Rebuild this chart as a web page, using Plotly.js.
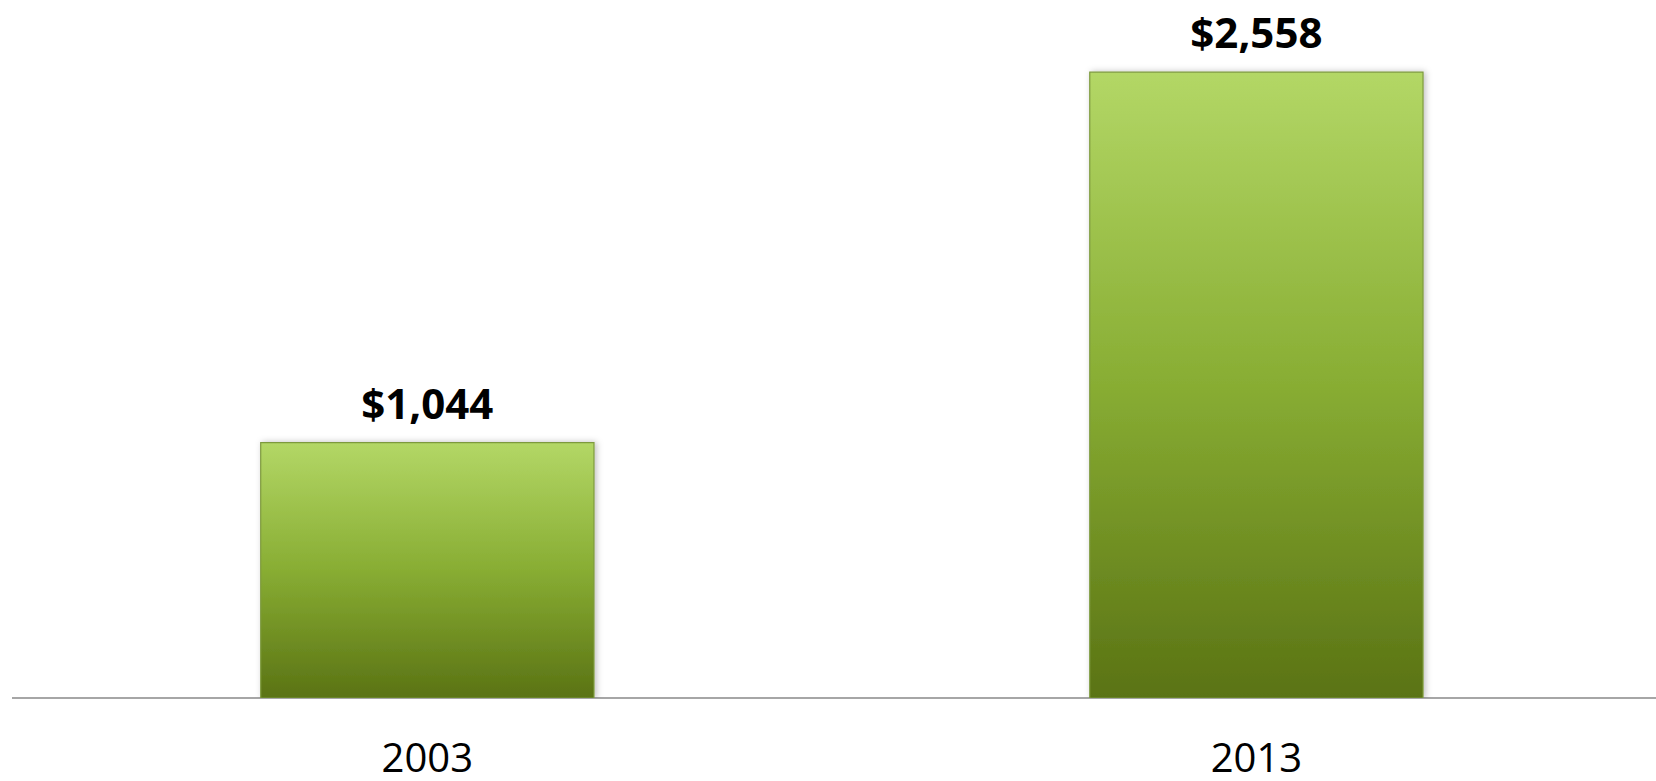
<!DOCTYPE html>
<html>
<head>
<meta charset="utf-8">
<script src="https://cdn.plot.ly/plotly-3.0.1.min.js"></script>
<style>
  html, body { margin: 0; padding: 0; background: #fff; }
  #chart { width: 1656px; height: 781px; }
</style>
</head>
<body>
<div id="chart"></div>
<script>
const years = ['2003', '2013'];
const values = [1044, 2558];
const valueLabels = ['$1,044', '$2,558'];

const barTrace = {
  type: 'bar',
  x: years,
  y: values,
  width: 0.402,
  marker: { color: '#86ad30', line: { color: '#7d9a3e', width: 1.2 } },
  hoverinfo: 'none'
};

const labelTrace = {
  type: 'scatter',
  mode: 'markers+text',
  x: years,
  y: values,
  text: valueLabels,
  textposition: 'top center',
  cliponaxis: false,
  marker: { size: 20, opacity: 0, color: '#ffffff' },
  textfont: { family: 'Open Sans, sans-serif', size: 42, color: '#000000', weight: 'bold' },
  hoverinfo: 'none'
};

const layout = {
  width: 1656,
  height: 781,
  margin: { l: 12, r: 0, t: 13, b: 83 },
  paper_bgcolor: '#ffffff',
  plot_bgcolor: '#ffffff',
  showlegend: false,
  xaxis: {
    type: 'category',
    range: [-0.501, 1.482],
    showgrid: false,
    zeroline: false,
    showline: false,
    ticks: '',
    ticklabelstandoff: 33,
    tickfont: { family: 'Open Sans, sans-serif', size: 40, color: '#000' }
  },
  yaxis: {
    range: [0, 2800],
    showgrid: false,
    zeroline: true,
    zerolinecolor: '#a6a6a6',
    zerolinewidth: 2,
    showticklabels: false,
    ticks: '',
    showline: false
  }
};

Plotly.newPlot('chart', [barTrace, labelTrace], layout, { staticPlot: true, displayModeBar: false }).then(function (gd) {
  const svg = gd.querySelector('svg.main-svg');
  const ns = 'http://www.w3.org/2000/svg';
  let defs = svg.querySelector('defs');
  if (!defs) { defs = document.createElementNS(ns, 'defs'); svg.insertBefore(defs, svg.firstChild); }
  const grad = document.createElementNS(ns, 'linearGradient');
  grad.setAttribute('id', 'barGrad');
  grad.setAttribute('x1', '0'); grad.setAttribute('y1', '0');
  grad.setAttribute('x2', '0'); grad.setAttribute('y2', '1');
  [['0', '#b3d766'], ['0.5', '#88ad33'], ['1', '#5a7314']].forEach(function (s) {
    const st = document.createElementNS(ns, 'stop');
    st.setAttribute('offset', s[0]);
    st.setAttribute('stop-color', s[1]);
    grad.appendChild(st);
  });
  defs.appendChild(grad);
  const filt = document.createElementNS(ns, 'filter');
  filt.setAttribute('id', 'barShadow');
  filt.setAttribute('x', '-10%'); filt.setAttribute('y', '-10%');
  filt.setAttribute('width', '120%'); filt.setAttribute('height', '120%');
  const sh = document.createElementNS(ns, 'feDropShadow');
  sh.setAttribute('dx', '2'); sh.setAttribute('dy', '0');
  sh.setAttribute('stdDeviation', '3');
  sh.setAttribute('flood-color', '#000'); sh.setAttribute('flood-opacity', '0.25');
  filt.appendChild(sh);
  defs.appendChild(filt);
  gd.querySelectorAll('.barlayer .point path').forEach(function (p) {
    p.style.fill = 'url(#barGrad)';
    p.setAttribute('filter', 'url(#barShadow)');
  });
});
</script>
</body>
</html>
